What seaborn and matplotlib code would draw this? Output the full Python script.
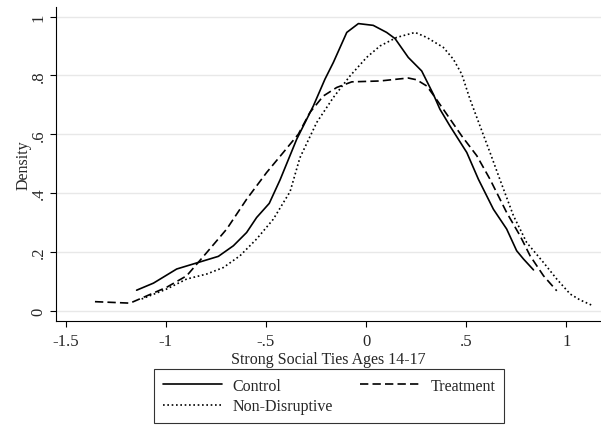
import matplotlib
matplotlib.use("Agg")
import matplotlib.pyplot as plt
import seaborn as sns
import pandas as pd
from matplotlib.lines import Line2D

ctrl_x = [-1.145, -1.061, -0.945, -0.829, -0.737, -0.662, -0.596, -0.546, -0.483, -0.429, -0.346, -0.263, -0.205,
          -0.163, -0.096, -0.038, 0.036, 0.103, 0.145, 0.211, 0.278, 0.336, 0.369, 0.419, 0.503, 0.561, 0.636,
          0.702, 0.752, 0.786, 0.836]
ctrl_y = [0.070, 0.094, 0.142, 0.166, 0.185, 0.221, 0.266, 0.317, 0.365, 0.445, 0.583, 0.696, 0.787,
          0.844, 0.946, 0.976, 0.970, 0.946, 0.925, 0.861, 0.815, 0.736, 0.685, 0.628, 0.538, 0.447, 0.345,
          0.278, 0.204, 0.176, 0.139]

treat_x = [-1.353, -1.178, -0.995, -0.895, -0.795, -0.695, -0.596, -0.496, -0.413, -0.338, -0.280, -0.213,
           -0.146, -0.071, 0.070, 0.153, 0.211, 0.253, 0.303, 0.345, 0.403, 0.478, 0.553, 0.619, 0.702, 0.769,
           0.819, 0.886, 0.952]
treat_y = [0.031, 0.026, 0.080, 0.119, 0.198, 0.278, 0.379, 0.470, 0.538, 0.600, 0.674, 0.730,
           0.759, 0.778, 0.781, 0.787, 0.791, 0.785, 0.764, 0.725, 0.668, 0.594, 0.527, 0.447, 0.334, 0.255,
           0.187, 0.119, 0.068]

nd_x = [-1.120, -0.995, -0.895, -0.795, -0.712, -0.629, -0.546, -0.463, -0.379, -0.330, -0.246, -0.163,
        -0.080, 0.003, 0.070, 0.153, 0.245, 0.303, 0.386, 0.436, 0.478, 0.519, 0.569, 0.619, 0.669, 0.736,
        0.802, 0.886, 0.952, 1.019, 1.068, 1.127]
nd_y = [0.040, 0.074, 0.108, 0.125, 0.147, 0.187, 0.244, 0.311, 0.405, 0.520, 0.640, 0.725,
        0.798, 0.861, 0.900, 0.929, 0.946, 0.929, 0.895, 0.855, 0.804, 0.719, 0.628, 0.538, 0.445, 0.323,
        0.232, 0.164, 0.108, 0.057, 0.037, 0.019]

groups = ["Control", "Treatment", "Non-Disruptive"]
x_ticks = [-1.5, -1, -0.5, 0, 0.5, 1]
x_labels = ["-1.5", "-1", "-.5", "0", ".5", "1"]
y_ticks = [0, 0.2, 0.4, 0.6, 0.8, 1.0]
y_labels = ["0", ".2", ".4", ".6", ".8", "1"]

df = pd.concat([
    pd.DataFrame({"x": ctrl_x, "y": ctrl_y, "group": "Control"}),
    pd.DataFrame({"x": treat_x, "y": treat_y, "group": "Treatment"}),
    pd.DataFrame({"x": nd_x, "y": nd_y, "group": "Non-Disruptive"}),
], ignore_index=True)

sns.set_style("white")
plt.rcParams["font.family"] = ["Liberation Serif", "DejaVu Serif"]

fig = plt.figure(figsize=(6.01, 4.27), dpi=100)
ax = fig.add_axes([0.093, 0.245, 0.907, 0.736])

for yt in y_ticks:
    ax.axhline(yt, color="#e8e8e8", lw=1.0, zorder=0)

dash_map = {"Control": "", "Treatment": (5, 2.5), "Non-Disruptive": (1, 1.6)}
sns.lineplot(data=df, x="x", y="y", style="group", style_order=groups, dashes=dash_map,
             color="black", linewidth=1.2, sort=False, estimator=None, ax=ax, legend=False)

ax.set_xlim(-1.548, 1.173)
ax.set_ylim(-0.036, 1.032)
ax.set_xticks(x_ticks)
ax.set_xticklabels(x_labels, fontsize=12)
ax.set_yticks(y_ticks)
ax.set_yticklabels(y_labels, fontsize=12, rotation=90, va="center")
ax.set_xlabel("Strong Social Ties Ages 14-17", fontsize=11.5, labelpad=1)
ax.set_ylabel("Density", fontsize=11.5, labelpad=-0.5)
ax.tick_params(axis="x", direction="out", length=4.5, width=0.8, color="black", pad=4)
ax.tick_params(axis="y", direction="out", length=4.5, width=0.8, color="black", pad=2)
ax.tick_params(axis="x", bottom=True)
ax.tick_params(axis="y", left=True)
for s in ["top", "right"]:
    ax.spines[s].set_visible(False)
for s in ["left", "bottom"]:
    ax.spines[s].set_color("black")
    ax.spines[s].set_linewidth(0.8)

h = [Line2D([], [], color="black", lw=1.2, linestyle="-"),
     Line2D([], [], color="black", lw=1.2, linestyle=(0, (1, 1.6))),
     Line2D([], [], color="black", lw=1.2, linestyle=(0, (5, 2.5)))]
lab = ["Control", "Non-Disruptive", "Treatment"]
leg = fig.legend(h, lab, ncol=2, loc="center", bbox_to_anchor=(329 / 601, 1 - 397 / 427),
                 frameon=True, fancybox=False, edgecolor="black", fontsize=11.5,
                 handlelength=3.7, handletextpad=0.7, columnspacing=1.7,
                 labelspacing=0.3, borderpad=0.55)
leg.get_frame().set_linewidth(0.8)

fig.savefig("out.png", dpi=100)
